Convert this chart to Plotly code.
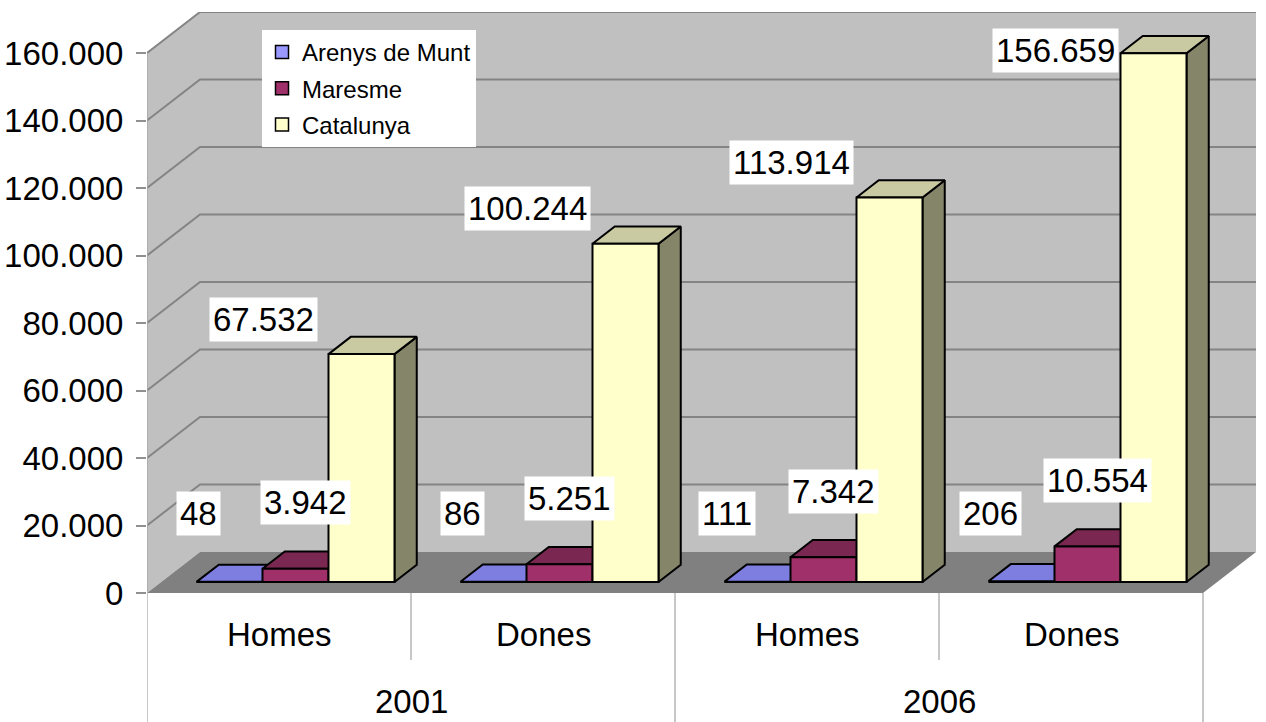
import plotly.graph_objects as go

# ---------------- data ----------------
years = ["2001", "2006"]
sexes = ["Homes", "Dones"]
series_names = ["Arenys de Munt", "Maresme", "Catalunya"]
arenys = [48, 86, 111, 206]
maresme = [3942, 5251, 7342, 10554]
catalunya = [67532, 100244, 113914, 156659]
tick_values = [0, 20000, 40000, 60000, 80000, 100000, 120000, 140000, 160000]
tick_labels = ["0", "20.000", "40.000", "60.000", "80.000", "100.000", "120.000", "140.000", "160.000"]

# ---------------- style / geometry ----------------
FONT = "Liberation Sans, Arial, sans-serif"
front_colors = ["#9999FF", "#A0306A", "#FFFFCC"]
top_colors = ["#7E7EE0", "#7A2852", "#C9C9A2"]
side_colors = ["#5E5E9C", "#561C3A", "#85856A"]

PX = 20000 / 67.5            # data units per vertical pixel
CAT_W = 264                  # category width (x units = pixels)
WALL_DX = 53                 # depth offset of back wall, x
WALL_DY = 41 * PX            # depth offset of back wall, y
BAR_D0, BAR_D1 = 0.268, 0.688
BAR_W = 66
BAR_X0 = 35.3
N_CAT = len(years) * len(sexes)
X_MAX = CAT_W * N_CAT + WALL_DX
Y_TOP = tick_values[-1] + WALL_DY

categories = [(y, s) for y in years for s in sexes]
series_values = [arenys, maresme, catalunya]


def proj(x, y, d):
    return x + WALL_DX * d, y + WALL_DY * d


def fmt(v):
    return f"{v:,}".replace(",", ".")


fig = go.Figure()

# legend entries
for j, name in enumerate(series_names):
    fig.add_trace(go.Scatter(
        x=[None], y=[None], mode="markers", name=name, legendgroup=name,
        marker=dict(symbol="square", size=13, color=front_colors[j],
                    line=dict(color="black", width=1.5)),
        showlegend=True, hoverinfo="skip"))

# 3D bars as faces, painted left to right (side, top, front)
for j, vals in enumerate(series_values):
    faces = {"side": ([], []), "top": ([], []), "front": ([], [])}
    for i, v in enumerate(vals):
        xl = BAR_X0 + CAT_W * i + BAR_W * j
        xr = xl + BAR_W
        pts = {
            "front": [proj(xl, 0, BAR_D0), proj(xr, 0, BAR_D0), proj(xr, v, BAR_D0), proj(xl, v, BAR_D0)],
            "top": [proj(xl, v, BAR_D0), proj(xr, v, BAR_D0), proj(xr, v, BAR_D1), proj(xl, v, BAR_D1)],
            "side": [proj(xr, 0, BAR_D0), proj(xr, 0, BAR_D1), proj(xr, v, BAR_D1), proj(xr, v, BAR_D0)],
        }
        for f, p in pts.items():
            xs, ys = faces[f]
            xs += [q[0] for q in p] + [p[0][0], None]
            ys += [q[1] for q in p] + [p[0][1], None]
    for f, col in (("side", side_colors[j]), ("top", top_colors[j]), ("front", front_colors[j])):
        xs, ys = faces[f]
        fig.add_trace(go.Scatter(
            x=xs, y=ys, mode="lines", fill="toself", fillcolor=col,
            line=dict(color="black", width=2), showlegend=False,
            legendgroup=series_names[j], hoverinfo="skip"))

# walls, floor and gridlines
shapes = []
left_wall = f"M 0,0 L {WALL_DX},{WALL_DY} L {WALL_DX},{Y_TOP} L 0,{tick_values[-1]} Z"
shapes.append(dict(type="path", path=left_wall, xref="x", yref="y", layer="below",
                   fillcolor="#C0C0C0", line=dict(width=0)))
shapes.append(dict(type="rect", x0=WALL_DX, x1=X_MAX, y0=WALL_DY, y1=Y_TOP, xref="x", yref="y",
                   layer="below", fillcolor="#C0C0C0", line=dict(width=0)))
floor = f"M 0,0 L {CAT_W * N_CAT},0 L {X_MAX},{WALL_DY} L {WALL_DX},{WALL_DY} Z"
shapes.append(dict(type="path", path=floor, xref="x", yref="y", layer="below",
                   fillcolor="#808080", line=dict(width=0)))
for v in tick_values[1:]:
    p = f"M 0,{v} L {WALL_DX},{v + WALL_DY} L {X_MAX},{v + WALL_DY}"
    shapes.append(dict(type="path", path=p, xref="x", yref="y", layer="below",
                       line=dict(color="#848484", width=2)))
# front vertical axis line
shapes.append(dict(type="line", x0=0, x1=0, y0=0, y1=tick_values[-1], xref="x", yref="y",
                   layer="below", line=dict(color="#A8A8A8", width=1.5)))
# category separators
bottom_paper = -129 / 581
for k in range(N_CAT + 1):
    is_major = (k % len(sexes) == 0)
    y1 = bottom_paper if is_major else -67 / 581
    shapes.append(dict(type="line", x0=CAT_W * k, x1=CAT_W * k, y0=0, y1=y1, xref="x", yref="paper",
                       layer="below", line=dict(color="#B4B4B4", width=1.5)))

annotations = []
for i, (yr, sx) in enumerate(categories):
    annotations.append(dict(x=CAT_W * i + CAT_W / 2, y=-41 / 581, xref="x", yref="paper", text=sx,
                            xanchor="center", yanchor="middle", showarrow=False,
                            font=dict(size=33, color="black", family=FONT)))
for k, yr in enumerate(years):
    annotations.append(dict(x=CAT_W * len(sexes) * (k + 0.5), y=-108 / 581, xref="x", yref="paper",
                            text=yr, xanchor="center", yanchor="middle", showarrow=False,
                            font=dict(size=33, color="black", family=FONT)))

# data labels
label_dx = [-31, 10, -98]
label_up = [68, 66, 35]
for j, vals in enumerate(series_values):
    for i, v in enumerate(vals):
        cx = BAR_X0 + CAT_W * i + BAR_W * j + BAR_W / 2 + WALL_DX * BAR_D0
        top = WALL_DY * BAR_D0 + v
        ly = min(top + label_up[j] * PX, Y_TOP - 38 * PX)
        annotations.append(dict(x=cx + label_dx[j], y=ly, xref="x", yref="y", text=fmt(v),
                                showarrow=False, bgcolor="white", borderpad=3,
                                font=dict(size=33, color="black", family=FONT)))

fig.update_layout(
    width=1266, height=722,
    margin=dict(l=147, r=1266 - 147 - X_MAX, t=12, b=129, autoexpand=False),
    paper_bgcolor="white", plot_bgcolor="white",
    font=dict(family=FONT, color="black"),
    xaxis=dict(range=[0, X_MAX], visible=False, fixedrange=True, automargin=False),
    yaxis=dict(range=[0, Y_TOP], tickvals=tick_values, ticktext=tick_labels,
               ticks="outside", ticklen=10, tickcolor="#909090", tickwidth=1.5,
               showgrid=False, zeroline=False, showline=False, automargin=False,
               tickfont=dict(size=33, color="black", family=FONT), ticklabelstandoff=6,
               fixedrange=True),
    shapes=shapes,
    annotations=annotations,
    showlegend=True,
    legend=dict(x=(262 - 147) / X_MAX, y=(593 - 30) / 581, xanchor="left", yanchor="top",
                bgcolor="white", borderwidth=0, font=dict(size=24, color="black", family=FONT),
                traceorder="grouped", tracegroupgap=2, itemwidth=30),
)

fig.write_html("out.html", config={"displayModeBar": False},
               post_script="document.body.style.margin='0';")
